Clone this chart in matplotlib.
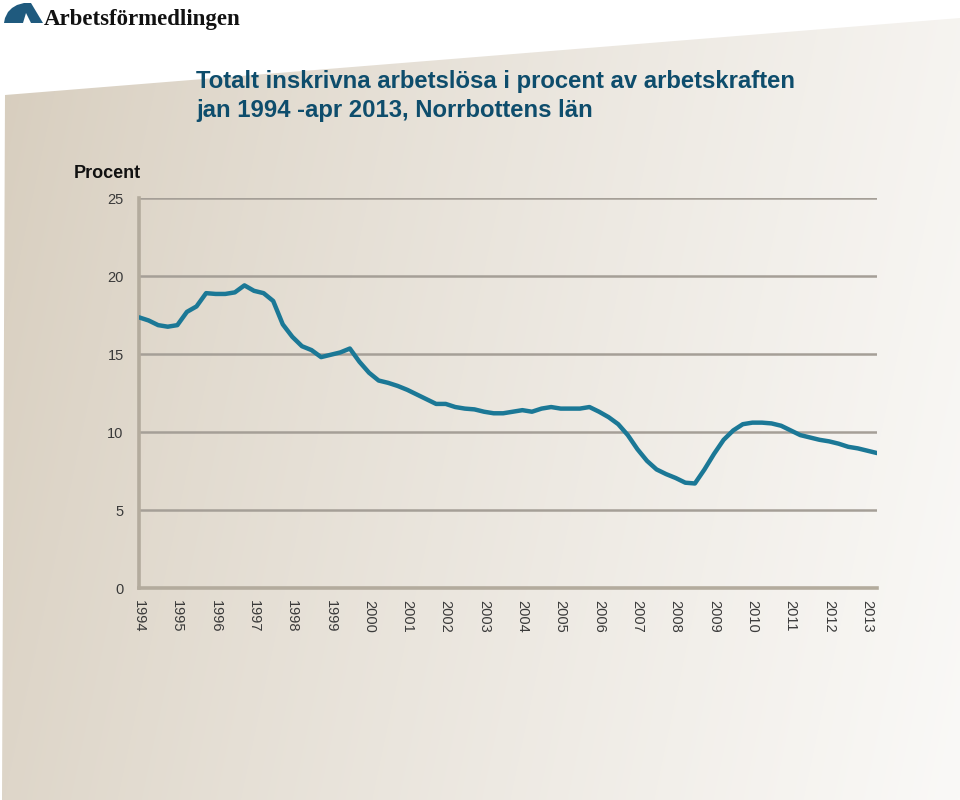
import numpy as np
import matplotlib
matplotlib.use("Agg")
import matplotlib.pyplot as plt
from matplotlib.patches import Polygon

# ---- data (quarterly readings, Jan 1994 .. Apr 2013) ----
start_year = 1994.0
values = [
    17.35, 17.15, 16.85, 16.75,   # 1994
    16.85, 17.70, 18.05, 18.90,   # 1995
    18.85, 18.85, 18.95, 19.40,   # 1996
    19.05, 18.90, 18.40, 16.90,   # 1997
    16.10, 15.50, 15.25, 14.80,   # 1998
    14.95, 15.10, 15.35, 14.50,   # 1999
    13.80, 13.30, 13.15, 12.95,   # 2000
    12.70, 12.40, 12.10, 11.80,   # 2001
    11.80, 11.60, 11.50, 11.45,   # 2002
    11.30, 11.20, 11.20, 11.30,   # 2003
    11.40, 11.30, 11.50, 11.60,   # 2004
    11.50, 11.50, 11.50, 11.60,   # 2005
    11.30, 10.95, 10.50, 9.80,    # 2006
    8.90, 8.15, 7.60, 7.30,       # 2007
    7.05, 6.75, 6.70, 7.60,       # 2008
    8.60, 9.50, 10.10, 10.50,     # 2009
    10.60, 10.60, 10.55, 10.40,   # 2010
    10.10, 9.80, 9.65, 9.50,      # 2011
    9.40, 9.25, 9.05, 8.95,       # 2012
    8.80, 8.65,                   # 2013
]
years = list(range(1994, 2014))
year_labels = [str(y) for y in years]
y_ticks = [0, 5, 10, 15, 20, 25]

title_line1 = "Totalt inskrivna arbetslösa i procent av arbetskraften"
title_line2 = "jan 1994 -apr 2013, Norrbottens län"
y_label = "Procent"
logo_text = "Arbetsförmedlingen"

W, H = 960, 800
fig = plt.figure(figsize=(W / 100, H / 100), dpi=100)
fig.patch.set_facecolor("white")

# ---- background tilted gradient panel ----
bg = fig.add_axes([0, 0, 1, 1], zorder=0)
bg.set_xlim(0, W)
bg.set_ylim(H, 0)
bg.axis("off")
xx, yy = np.meshgrid(np.linspace(0, 1, 240), np.linspace(0, 1, 200))
t = np.clip(0.85 * xx + 0.15 * yy, 0, 1) ** 0.8
dark = np.array([214, 204, 188]) / 255.0
light = np.array([250, 249, 247]) / 255.0
img = dark[None, None, :] * (1 - t[..., None]) + light[None, None, :] * t[..., None]
im = bg.imshow(img, extent=[0, W, H, 0], aspect="auto", interpolation="bilinear")
panel = Polygon([(5, 95), (W, 18), (W, H), (2, H)], closed=True,
                transform=bg.transData, facecolor="none", edgecolor="none")
bg.add_patch(panel)
im.set_clip_path(panel)

# ---- logo ----
logo_col = "#1f5a7e"
bg.add_patch(Polygon([(4, 23), (5, 18), (8, 12), (12, 8), (17, 5), (24, 3),
                      (31, 3), (43, 23), (31, 23), (26, 13), (23, 23)],
                     closed=True, facecolor=logo_col, edgecolor="none"))
fig.text(44 / W, 1 - 25 / H, logo_text, family=["Liberation Serif", "DejaVu Serif"],
         fontsize=16.5, fontweight="bold", color="#111111", ha="left", va="baseline")

# ---- title ----
tcol = "#0e4d6c"
tfam = ["Liberation Sans Narrow", "Liberation Sans", "DejaVu Sans"]
fig.text(196 / W, 1 - 88 / H, title_line1, family=tfam, fontsize=17.2,
         fontweight="bold", color=tcol, ha="left", va="baseline")
fig.text(196 / W, 1 - 117 / H, title_line2, family=tfam, fontsize=17.2,
         fontweight="bold", color=tcol, ha="left", va="baseline")

# ---- chart ----
ax = fig.add_axes([139 / W, 1 - 588 / H, (877 - 139) / W, (588 - 198) / H], zorder=2)
ax.patch.set_alpha(0)
x = [start_year + i * 0.25 for i in range(len(values))]
ax.plot(x, values, color="#1b7896", lw=3.2, solid_joinstyle="round",
        solid_capstyle="round", zorder=3)

ax.set_xlim(1994, 2013.25)
ax.set_ylim(0, 25)
ax.set_yticks(y_ticks)
ax.set_yticklabels([str(v) for v in y_ticks])
ax.set_xticks(years)
ax.set_xticklabels(year_labels, rotation=-90, va="top", ha="center")
for v in y_ticks[1:]:
    ax.axhline(v, color="#a59f97", lw=1.8, zorder=1)
for s in ["top", "right"]:
    ax.spines[s].set_visible(False)
for s in ["left", "bottom"]:
    ax.spines[s].set_color("#b3ab9d")
    ax.spines[s].set_linewidth(2.6)
ax.tick_params(axis="both", length=0, labelsize=10.5, labelcolor="#3a3a3a")
ax.tick_params(axis="y", pad=11)
ax.tick_params(axis="x", pad=9)
for lbl in ax.get_xticklabels() + ax.get_yticklabels():
    lbl.set_family(["Liberation Sans", "DejaVu Sans"])

fig.text(74 / W, 1 - 178 / H, y_label, family=["Liberation Sans", "DejaVu Sans"],
         fontsize=13, fontweight="bold", color="#111111", ha="left", va="baseline")

fig.savefig("out.png", dpi=100)
